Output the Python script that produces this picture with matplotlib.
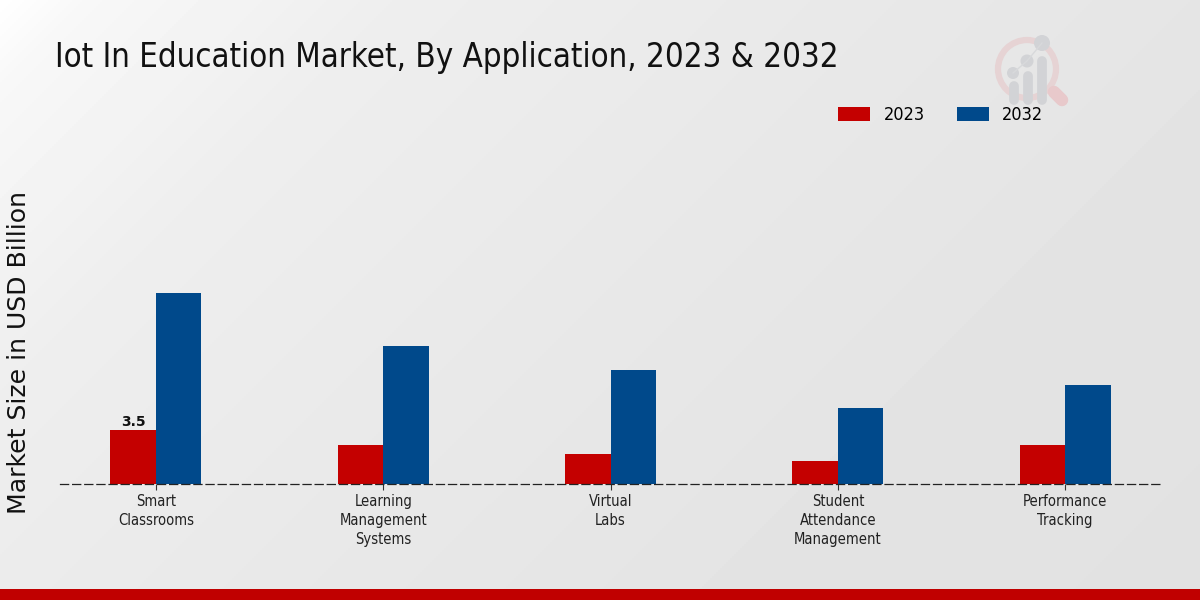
import matplotlib.pyplot as plt
import matplotlib.patches as mpatches
import numpy as np

categories = ['Smart\nClassrooms', 'Learning\nManagement\nSystems', 'Virtual\nLabs',
              'Student\nAttendance\nManagement', 'Performance\nTracking']
values_2023 = [3.5, 2.5, 1.95, 1.5, 2.5]
values_2032 = [12.4, 8.95, 7.4, 4.95, 6.4]

RED = '#c40000'
BLUE = '#00498b'

fig = plt.figure(figsize=(12, 6), dpi=100)

# background, whitish top left corner fading to grey
bg = fig.add_axes([0, 0, 1, 1], zorder=0)
yy, xx = np.mgrid[0:1:300j, 0:1:600j]
d = (xx * 2 + yy) / 3
shade = np.interp(d, [0, 0.05, 0.22, 0.5, 0.78, 1], [1, 0.97, 0.933, 0.91, 0.89, 0.885])
bg.imshow(shade, cmap='gray', vmin=0, vmax=1, extent=[0, 1200, 600, 0], aspect='auto')
bg.set_xlim(0, 1200)
bg.set_ylim(600, 0)
bg.axis('off')

# bottom strip
bg.add_patch(mpatches.Rectangle((0, 589), 1200, 11, color='#c00000', lw=0))

# watermark logo
bg.add_patch(mpatches.Circle((1027, 69), 29, fill=False, ec='#e6d3d4', lw=4.5))
bg.plot([1054, 1062], [92, 100], color='#e8c9cb', lw=9, solid_capstyle='round')
for x, top in [(1014, 86), (1028, 76), (1042, 61)]:
    bg.plot([x, x], [top, 100], color='#d2d3d6', lw=7, solid_capstyle='round')
bg.plot([1013, 1027, 1042], [73, 61, 43], color='#d8d9db', lw=1)
for x, y, r in [(1013, 73, 6), (1027, 61, 6.5), (1042, 43, 8)]:
    bg.add_patch(mpatches.Circle((x, y), r, color='#d2d3d6', lw=0))

ax = fig.add_axes([60 / 1200, (600 - 484) / 600, 1100 / 1200, (484 - 130) / 600], zorder=1)
ax.patch.set_alpha(0)

x = np.arange(len(categories))
width = 0.2
bars_2023 = ax.bar(x - width / 2, values_2023, width, color=RED, label='2023', linewidth=0)
bars_2032 = ax.bar(x + width / 2, values_2032, width, color=BLUE, label='2032', linewidth=0)

ax.set_xlim(-0.422, 4.417)
ax.set_ylim(0, 354 / 15.43)
ax.set_xticks(x)
ax.set_xticklabels(categories, fontsize=10.6, fontstretch='condensed', color='#222222', linespacing=1.3)
ax.tick_params(axis='x', length=4, width=0.8, pad=3.5, color='#333333')
ax.set_yticks([])
for s in ['top', 'left', 'right']:
    ax.spines[s].set_visible(False)
ax.spines['bottom'].set_linestyle((0, (6.5, 3.2)))
ax.spines['bottom'].set_color('#222222')
ax.spines['bottom'].set_linewidth(0.9)
ax.spines['bottom'].set_zorder(5)

ax.text(x[0] - width / 2, values_2023[0] + 0.05, '3.5', ha='center', va='bottom',
        fontsize=10, fontweight='bold', color='#111111')

fig.text(19 / 1200, 1 - 353 / 600, 'Market Size in USD Billion', rotation=90, ha='center', va='center',
         fontsize=18.1, color='#111111')
fig.text(55 / 1200, 1 - 57 / 600, 'Iot In Education Market, By Application, 2023 & 2032', ha='left', va='center',
         fontsize=23.7, fontstretch='condensed', color='#111111')

leg = fig.legend(handles=[bars_2023, bars_2032], labels=['2023', '2032'], ncol=2, frameon=False,
                 loc='center left', bbox_to_anchor=(822 / 1200, 1 - 115 / 600), fontsize=13,
                 handlelength=1.78, handleheight=0.78, columnspacing=1.8, handletextpad=0.72)
for t in leg.get_texts():
    t.set_fontstretch('condensed')

fig.savefig('out.png', dpi=100)
